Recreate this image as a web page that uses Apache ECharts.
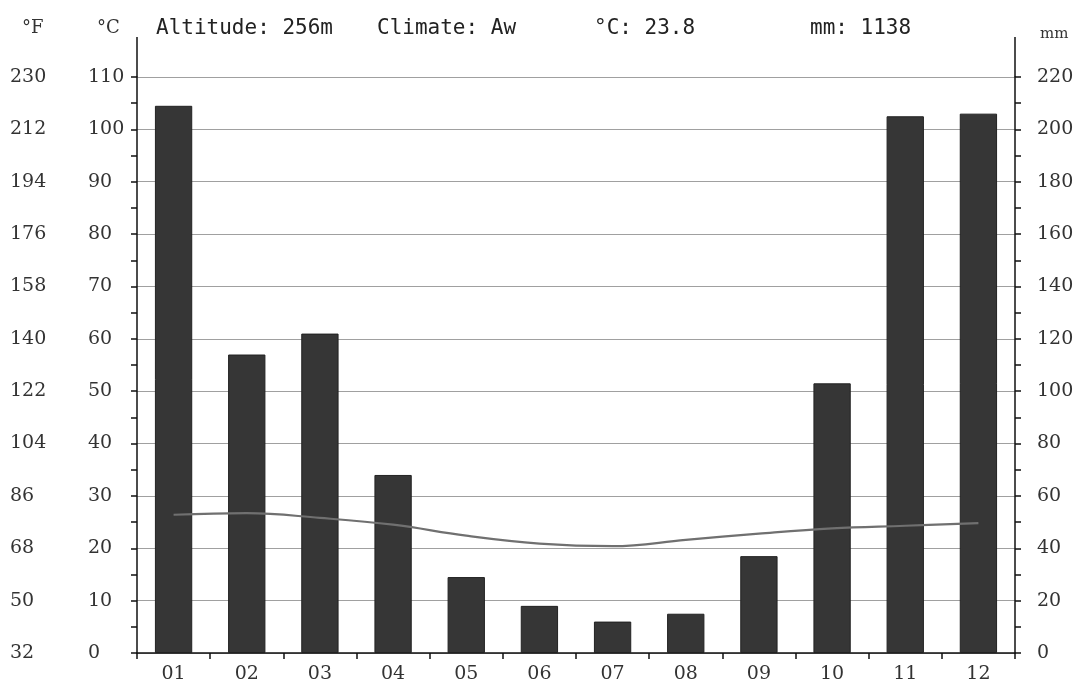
<!DOCTYPE html>
<html>
<head>
<meta charset="utf-8">
<script src="https://cdn.jsdelivr.net/npm/echarts@6/dist/echarts.min.js"></script>
<style>
html,body{margin:0;padding:0;background:#fff;}
#chart{width:1078px;height:688px;}
</style>
</head>
<body>
<div id="chart"></div>
<script>
const months = ['01','02','03','04','05','06','07','08','09','10','11','12'];
const precipitation = [209, 114, 122, 68, 29, 18, 12, 15, 37, 103, 205, 206];
const temperature = [26.4, 26.7, 25.8, 24.5, 22.4, 20.9, 20.4, 21.6, 22.8, 23.8, 24.3, 24.8];
const headerAltitude = 'Altitude: 256m';
const headerClimate = 'Climate: Aw';
const headerMeanTemp = '°C: 23.8';
const headerTotalPrecip = 'mm: 1138';

const serif = 'DejaVu Serif';
const mono = 'DejaVu Sans Mono';
const labelStyle = {fontFamily: serif, fontSize: 19, color: '#333'};

const chart = echarts.init(document.getElementById('chart'));
const option = {
  backgroundColor: '#fff',
  animation: false,
  grid: {left: 137, right: 63, top: 77, bottom: 35},
  xAxis: {
    type: 'category',
    data: months,
    axisLine: {lineStyle: {color: '#111', width: 1.5}},
    axisTick: {show: true, length: 6, lineStyle: {color: '#111', width: 1.5}},
    axisLabel: Object.assign({margin: 12}, labelStyle),
    splitLine: {show: false}
  },
  yAxis: [
    {
      type: 'value', position: 'left', min: 0, max: 110, interval: 10,
      axisLine: {show: true, lineStyle: {color: '#111', width: 1.5}},
      axisTick: {show: true, length: 6, lineStyle: {color: '#111', width: 1.5}},
      minorTick: {show: true, splitNumber: 2, length: 6, lineStyle: {color: '#111', width: 1.5}},
      axisLabel: Object.assign({margin: 49, align: 'left'}, labelStyle),
      splitLine: {show: true, lineStyle: {color: '#a0a0a0', width: 1.2}}
    },
    {
      type: 'value', position: 'right', min: 0, max: 220, interval: 20,
      axisLine: {show: true, lineStyle: {color: '#111', width: 1.5}},
      axisTick: {show: true, length: 6, lineStyle: {color: '#111', width: 1.5}},
      minorTick: {show: true, splitNumber: 2, length: 6, lineStyle: {color: '#111', width: 1.5}},
      axisLabel: Object.assign({margin: 22, align: 'left'}, labelStyle),
      splitLine: {show: false}
    },
    {
      type: 'value', position: 'left', min: 32, max: 230, interval: 18,
      axisLine: {show: false}, axisTick: {show: false},
      axisLabel: Object.assign({margin: 127, align: 'left'}, labelStyle),
      splitLine: {show: false}
    }
  ],
  series: [
    {
      type: 'bar', name: 'mm', xAxisIndex: 0, yAxisIndex: 1,
      data: precipitation, barWidth: '51%',
      itemStyle: {color: '#363636', borderColor: '#222', borderWidth: 1},
      z: 2
    },
    {
      type: 'line', name: '°C', yAxisIndex: 0, data: temperature,
      smooth: 0.4, showSymbol: false, symbol: 'none',
      lineStyle: {color: '#707070', width: 2.2},
      z: 3
    }
  ],
  graphic: [
    {type: 'text', left: 22, top: 19, style: {text: '°F', font: '18px ' + serif, fill: '#333'}},
    {type: 'text', left: 97, top: 19, style: {text: '°C', font: '18px ' + serif, fill: '#333'}},
    {type: 'text', left: 156, top: 18, style: {text: headerAltitude, font: '21px ' + mono, fill: '#222'}},
    {type: 'text', left: 377, top: 18, style: {text: headerClimate, font: '21px ' + mono, fill: '#222'}},
    {type: 'text', left: 594, top: 18, style: {text: headerMeanTemp, font: '21px ' + mono, fill: '#222'}},
    {type: 'text', left: 810, top: 18, style: {text: headerTotalPrecip, font: '21px ' + mono, fill: '#222'}},
    {type: 'text', left: 1040, top: 27, style: {text: 'mm', font: '15px ' + serif, fill: '#333'}}
  ]
};
chart.setOption(option);

// extend the two vertical axis lines above the plot, as in the original
const topPx = chart.convertToPixel({yAxisIndex: 0}, 110);
const rect = chart.getModel().getComponent('grid').coordinateSystem.getRect();
chart.setOption({
  graphic: option.graphic.concat([
    {type: 'line', shape: {x1: rect.x, y1: topPx - 40, x2: rect.x, y2: topPx}, style: {stroke: '#111', lineWidth: 1.5}},
    {type: 'line', shape: {x1: rect.x + rect.width, y1: topPx - 40, x2: rect.x + rect.width, y2: topPx}, style: {stroke: '#111', lineWidth: 1.5}}
  ])
});
</script>
</body>
</html>
